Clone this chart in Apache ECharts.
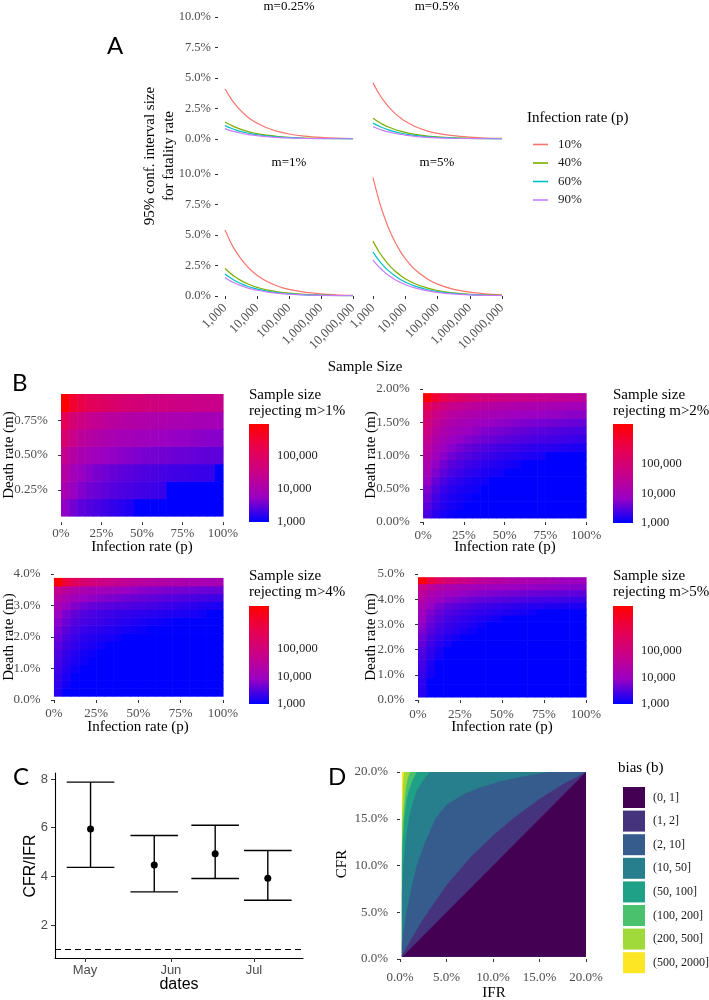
<!DOCTYPE html>
<html>
<head>
<meta charset="utf-8">
<title>Figure</title>
<script src="https://cdn.jsdelivr.net/npm/echarts@6.0.0/dist/echarts.min.js"></script>
<style>
html,body{margin:0;padding:0;background:#ffffff;}
#chart{width:709px;height:1000px;}
</style>
</head>
<body>
<div id="chart"></div>
<script>
// ====================== DATA ======================
// ---- Panel A: 95% CI size (%) vs sample size ----
const sampleSizes = [1000, 1500, 2000, 3000, 5000, 7500, 10000, 20000, 50000, 100000, 300000, 1000000, 3000000, 10000000];
const infectionRates = ['10%', '40%', '60%', '90%'];
const lineColors = ['#F8766D', '#7CAE00', '#00BFC4', '#C77CFF'];
const deathRateLabels = ['m=0.25%', 'm=0.5%', 'm=1%', 'm=5%'];
const ciM025 = [
  [4.10, 3.35, 2.90, 2.37, 1.83, 1.50, 1.30, 0.92, 0.58, 0.41, 0.24, 0.13, 0.07, 0.04],
  [1.40, 1.14, 0.99, 0.81, 0.63, 0.51, 0.44, 0.31, 0.20, 0.14, 0.08, 0.04, 0.03, 0.01],
  [1.10, 0.90, 0.78, 0.63, 0.49, 0.40, 0.35, 0.25, 0.16, 0.11, 0.06, 0.03, 0.02, 0.01],
  [0.85, 0.69, 0.60, 0.49, 0.38, 0.31, 0.27, 0.19, 0.12, 0.085, 0.05, 0.03, 0.02, 0.01]
];
const ciM05 = [
  [4.60, 3.75, 3.25, 2.65, 2.06, 1.68, 1.45, 1.03, 0.65, 0.46, 0.27, 0.15, 0.08, 0.05],
  [1.70, 1.39, 1.20, 0.98, 0.76, 0.62, 0.54, 0.38, 0.24, 0.17, 0.10, 0.05, 0.03, 0.02],
  [1.30, 1.06, 0.92, 0.75, 0.58, 0.47, 0.41, 0.29, 0.18, 0.13, 0.08, 0.04, 0.02, 0.01],
  [1.00, 0.82, 0.71, 0.58, 0.45, 0.37, 0.32, 0.22, 0.14, 0.10, 0.06, 0.03, 0.02, 0.01]
];
const ciM1 = [
  [5.40, 4.41, 3.82, 3.12, 2.41, 1.97, 1.71, 1.21, 0.76, 0.54, 0.31, 0.17, 0.10, 0.05],
  [2.25, 1.84, 1.59, 1.30, 1.01, 0.82, 0.71, 0.50, 0.32, 0.23, 0.13, 0.07, 0.04, 0.02],
  [1.80, 1.47, 1.27, 1.04, 0.80, 0.66, 0.57, 0.40, 0.25, 0.18, 0.10, 0.06, 0.03, 0.02],
  [1.50, 1.22, 1.06, 0.87, 0.67, 0.55, 0.47, 0.34, 0.21, 0.15, 0.09, 0.05, 0.03, 0.02]
];
const ciM5 = [
  [9.70, 7.92, 6.86, 5.60, 4.34, 3.54, 3.07, 2.17, 1.37, 0.97, 0.56, 0.31, 0.18, 0.10],
  [4.50, 3.67, 3.18, 2.60, 2.01, 1.64, 1.42, 1.01, 0.64, 0.45, 0.26, 0.14, 0.08, 0.05],
  [3.60, 2.94, 2.55, 2.08, 1.61, 1.31, 1.14, 0.81, 0.51, 0.36, 0.21, 0.11, 0.07, 0.04],
  [2.95, 2.41, 2.09, 1.70, 1.32, 1.08, 0.93, 0.66, 0.42, 0.30, 0.17, 0.09, 0.05, 0.03]
];

// ---- Panel B: log10(sample size) needed to reject m > threshold ----
const thresholdLabels = ['1%', '2%', '4%', '5%'];
const pCols = [2.5, 7.5, 12.5, 17.5, 22.5, 27.5, 32.5, 37.5, 42.5, 47.5, 52.5, 57.5, 62.5, 67.5, 72.5, 77.5, 82.5, 87.5, 92.5, 97.5];
const mRowsB1 = [0.125, 0.25, 0.375, 0.5, 0.625, 0.75, 0.875];
const mRowsB2 = [0.125, 0.25, 0.375, 0.5, 0.625, 0.75, 0.875, 1.0, 1.125, 1.25, 1.375, 1.5, 1.625, 1.75, 1.875];
const mRowsB3 = [0.25, 0.5, 0.75, 1.0, 1.25, 1.5, 1.75, 2.0, 2.25, 2.5, 2.75, 3.0, 3.25, 3.5, 3.75];
const mRowsB4 = [0.25, 0.5, 0.75, 1.0, 1.25, 1.5, 1.75, 2.0, 2.25, 2.5, 2.75, 3.0, 3.25, 3.5, 3.75, 4.0, 4.25, 4.5, 4.75];
const logNB1 = [
  [3.7,3.55,3.45,3.4,3.35,3.3,3.25,3.2,3.15,3,3,3,3,3,3,3,3,3,3,3],
  [3.95,3.75,3.63,3.55,3.5,3.45,3.41,3.38,3.35,3.33,3.31,3.29,3.27,3,3,3,3,3,3,3],
  [4.15,3.9,3.75,3.66,3.59,3.54,3.49,3.46,3.43,3.4,3.38,3.36,3.34,3.32,3.31,3.3,3.28,3.27,3.26,3],
  [4.4,4.13,3.98,3.88,3.81,3.75,3.71,3.67,3.64,3.61,3.58,3.56,3.55,3.53,3.51,3.5,3.48,3.47,3.46,3.45],
  [4.8,4.48,4.29,4.17,4.09,4.02,3.96,3.91,3.88,3.85,3.81,3.79,3.77,3.74,3.72,3.71,3.69,3.67,3.66,3.65],
  [5.1,4.76,4.57,4.44,4.36,4.28,4.22,4.18,4.14,4.1,4.07,4.04,4.02,4,3.98,3.96,3.94,3.92,3.91,3.9],
  [5.97,5.54,5.3,5.13,5.03,4.94,4.86,4.8,4.75,4.71,4.66,4.63,4.6,4.57,4.55,4.53,4.5,4.48,4.47,4.45]
];
const logNB2 = [
  [3.4,3.22,3.12,3.06,3,3,3,3,3,3,3,3,3,3,3,3,3,3,3,3],
  [3.5,3.3,3.19,3.12,3.07,3,3,3,3,3,3,3,3,3,3,3,3,3,3,3],
  [3.6,3.37,3.24,3.16,3.11,3.07,3,3,3,3,3,3,3,3,3,3,3,3,3,3],
  [3.7,3.45,3.31,3.22,3.16,3.12,3.08,3,3,3,3,3,3,3,3,3,3,3,3,3],
  [3.85,3.57,3.41,3.3,3.23,3.17,3.13,3.1,3,3,3,3,3,3,3,3,3,3,3,3],
  [4,3.7,3.52,3.4,3.32,3.26,3.21,3.16,3.13,3.1,3,3,3,3,3,3,3,3,3,3],
  [4.15,3.82,3.63,3.5,3.42,3.35,3.29,3.24,3.2,3.17,3.13,3.1,3,3,3,3,3,3,3,3],
  [4.3,3.95,3.75,3.61,3.52,3.45,3.39,3.34,3.3,3.26,3.22,3.2,3.17,3.14,3.12,3,3,3,3,3],
  [4.45,4.09,3.88,3.74,3.64,3.57,3.5,3.45,3.41,3.37,3.33,3.31,3.28,3.25,3.23,3.22,3.2,3.18,3.16,3.15],
  [4.6,4.24,4.03,3.89,3.79,3.72,3.65,3.6,3.56,3.52,3.48,3.46,3.43,3.4,3.38,3.37,3.35,3.33,3.31,3.3],
  [4.8,4.41,4.18,4.03,3.93,3.85,3.78,3.72,3.68,3.64,3.6,3.57,3.54,3.51,3.49,3.47,3.45,3.43,3.41,3.4],
  [4.95,4.56,4.33,4.18,4.08,4,3.93,3.87,3.83,3.79,3.75,3.72,3.69,3.66,3.64,3.62,3.6,3.58,3.56,3.55],
  [5.15,4.76,4.53,4.38,4.28,4.2,4.13,4.07,4.03,3.99,3.95,3.92,3.89,3.86,3.84,3.82,3.8,3.78,3.76,3.75],
  [5.5,5.08,4.84,4.68,4.57,4.48,4.41,4.35,4.3,4.26,4.21,4.18,4.15,4.12,4.1,4.08,4.05,4.03,4.02,4],
  [6.36,5.83,5.52,5.31,5.18,5.06,4.97,4.89,4.83,4.77,4.72,4.68,4.64,4.6,4.57,4.55,4.52,4.49,4.47,4.45]
];
const logNB3 = [
  [3.2,3,3,3,3,3,3,3,3,3,3,3,3,3,3,3,3,3,3,3],
  [3.25,3.1,3,3,3,3,3,3,3,3,3,3,3,3,3,3,3,3,3,3],
  [3.3,3.15,3,3,3,3,3,3,3,3,3,3,3,3,3,3,3,3,3,3],
  [3.35,3.2,3.1,3,3,3,3,3,3,3,3,3,3,3,3,3,3,3,3,3],
  [3.4,3.26,3.16,3.09,3,3,3,3,3,3,3,3,3,3,3,3,3,3,3,3],
  [3.45,3.3,3.2,3.13,3.08,3,3,3,3,3,3,3,3,3,3,3,3,3,3,3],
  [3.52,3.37,3.28,3.21,3.15,3.09,3,3,3,3,3,3,3,3,3,3,3,3,3,3],
  [3.6,3.44,3.33,3.26,3.21,3.17,3.13,3.09,3,3,3,3,3,3,3,3,3,3,3,3],
  [3.7,3.52,3.4,3.33,3.28,3.24,3.2,3.16,3.13,3.1,3.07,3,3,3,3,3,3,3,3,3],
  [3.8,3.6,3.48,3.42,3.38,3.34,3.3,3.26,3.22,3.18,3.15,3.12,3.09,3.06,3,3,3,3,3,3],
  [3.95,3.7,3.57,3.48,3.42,3.38,3.34,3.31,3.29,3.27,3.25,3.23,3.21,3.19,3.17,3.15,3.13,3.1,3,3],
  [4.15,3.9,3.75,3.65,3.58,3.54,3.51,3.48,3.46,3.44,3.42,3.39,3.36,3.33,3.3,3.27,3.24,3.21,3.18,3.15],
  [4.4,4.15,4,3.9,3.84,3.78,3.73,3.69,3.65,3.62,3.59,3.56,3.53,3.5,3.47,3.45,3.42,3.4,3.37,3.35],
  [4.75,4.5,4.32,4.2,4.12,4.06,4,3.95,3.9,3.85,3.8,3.77,3.74,3.71,3.69,3.67,3.65,3.63,3.61,3.6],
  [6.56,5.87,5.48,5.21,5.03,4.89,4.76,4.67,4.59,4.52,4.44,4.4,4.35,4.3,4.26,4.22,4.19,4.15,4.13,4.12]
];
const logNB4 = [
  [3.22,3,3,3,3,3,3,3,3,3,3,3,3,3,3,3,3,3,3,3],
  [3.25,3,3,3,3,3,3,3,3,3,3,3,3,3,3,3,3,3,3,3],
  [3.28,3,3,3,3,3,3,3,3,3,3,3,3,3,3,3,3,3,3,3],
  [3.32,3.12,3,3,3,3,3,3,3,3,3,3,3,3,3,3,3,3,3,3],
  [3.37,3.15,3,3,3,3,3,3,3,3,3,3,3,3,3,3,3,3,3,3],
  [3.42,3.18,3,3,3,3,3,3,3,3,3,3,3,3,3,3,3,3,3,3],
  [3.45,3.27,3.12,3,3,3,3,3,3,3,3,3,3,3,3,3,3,3,3,3],
  [3.5,3.3,3.15,3,3,3,3,3,3,3,3,3,3,3,3,3,3,3,3,3],
  [3.6,3.38,3.24,3.13,3,3,3,3,3,3,3,3,3,3,3,3,3,3,3,3],
  [3.65,3.43,3.3,3.2,3.12,3,3,3,3,3,3,3,3,3,3,3,3,3,3,3],
  [3.75,3.52,3.39,3.3,3.22,3.15,3.09,3,3,3,3,3,3,3,3,3,3,3,3,3],
  [3.85,3.6,3.46,3.36,3.29,3.22,3.16,3.1,3,3,3,3,3,3,3,3,3,3,3,3],
  [3.95,3.68,3.52,3.42,3.35,3.29,3.24,3.19,3.15,3.1,3,3,3,3,3,3,3,3,3,3],
  [4.05,3.78,3.62,3.51,3.44,3.38,3.33,3.29,3.26,3.23,3.2,3.17,3.14,3.1,3,3,3,3,3,3],
  [4.2,3.91,3.74,3.62,3.55,3.49,3.43,3.39,3.36,3.33,3.3,3.28,3.26,3.23,3.22,3.2,3.19,3.17,3.16,3.15],
  [4.4,4.11,3.94,3.82,3.75,3.69,3.63,3.59,3.56,3.53,3.5,3.48,3.46,3.43,3.42,3.4,3.39,3.37,3.36,3.35],
  [4.6,4.31,4.14,4.02,3.95,3.89,3.83,3.79,3.76,3.73,3.7,3.68,3.66,3.63,3.62,3.6,3.59,3.57,3.56,3.55],
  [4.9,4.59,4.42,4.3,4.22,4.15,4.1,4.05,4.02,3.99,3.95,3.93,3.91,3.89,3.87,3.86,3.84,3.82,3.81,3.8],
  [6.7,5.94,5.51,5.22,5.03,4.86,4.73,4.62,4.54,4.46,4.38,4.32,4.27,4.22,4.18,4.14,4.09,4.05,4.03,4]
];
const pTicks = [0, 25, 50, 75, 100];
const mTicksB1 = [0.25, 0.5, 0.75];
const mTicksB2 = [0, 0.5, 1, 1.5, 2];
const mTicksB3 = [0, 1, 2, 3, 4];
const mTicksB4 = [0, 1, 2, 3, 4, 5];
const colorbarTicks = [1000, 10000, 100000];

// ---- Panel C: CFR/IFR estimates ----
const cDates = ['2020-05-03', '2020-05-26', '2020-06-17', '2020-07-06'];
const cEst  = [5.95, 4.47, 4.93, 3.92];
const cLow  = [4.37, 3.36, 3.91, 3.02];
const cHigh = [7.87, 5.68, 6.10, 5.06];
const cRefLine = 1;
const cMonthTicks = ['2020-05-01', '2020-06-01', '2020-07-01'];
const cYTicks = [2, 4, 6, 8];

// ---- Panel D: bias classes, upper boundary of each class as (IFR %, CFR %) ----
const biasLabels = ['(0, 1]', '(1, 2]', '(2, 10]', '(10, 50]', '(50, 100]', '(100, 200]', '(200, 500]', '(500, 2000]'];
const biasColors = ['#440154', '#46337E', '#365C8D', '#277F8E', '#1FA187', '#4AC16D', '#9FDA3A', '#FDE725'];
const boundB1 = [[0.2,0.2],[20,20]];
const boundB2 = [[0.2,0.4],[2.5,4.3],[5,7.9],[7.5,10.8],[10,13.2],[12.5,15.3],[15,17.1],[17.5,18.7],[20,20]];
const boundB10 = [[0.2,1.7],[0.3,2.5],[0.7,5],[1.2,7.5],[1.8,10],[2.7,12.5],[3.8,15],[5,16.5],[6.8,17.6],[8.5,18.3],[10.8,19],[13,19.5],[16,20],[20,20]];
const boundB50 = [[0.2,7],[0.36,10],[0.58,12.5],[0.95,15],[1.3,16.5],[1.8,18],[2.4,19],[3.2,20],[20,20]];
const boundB100 = [[0.2,10],[0.29,12.5],[0.46,15],[0.7,17],[0.95,18],[1.3,19],[1.8,20],[20,20]];
const boundB200 = [[0.2,12],[0.3,14.5],[0.45,16.5],[0.6,18],[0.8,19.2],[1.1,20],[20,20]];
const boundB500 = [[0.2,14.5],[0.25,16],[0.3,17.5],[0.35,19],[0.43,20],[20,20]];
const boundB2000 = [[0.2,20],[20,20]];
const dFloor = 0.25;

// ====================== STYLE ======================
const SERIF = '"Liberation Serif", "Times New Roman", serif';
const SANS = '"Liberation Sans", Arial, sans-serif';
const BIG = 'Lato, "Open Sans", sans-serif';
const TICK = '#333333';
const LAB = '#4D4D4D';
const ramp = ['#0000FF', '#9A00C3', '#C90089', '#E8004F', '#FF0000'];

// ====================== BUILD ======================
const grids = [
  {left: 225, top: 17, width: 128, height: 122},
  {left: 373, top: 17, width: 129, height: 122},
  {left: 225, top: 174, width: 128, height: 122},
  {left: 373, top: 174, width: 129, height: 122},
  {left: 52.9, top: 387.9, width: 178.2, height: 134.2},
  {left: 414.9, top: 386.9, width: 179.3, height: 137.2},
  {left: 45.5, top: 572, width: 185.9, height: 130},
  {left: 409.6, top: 571.2, width: 184.8, height: 131.7},
  {left: 249, top: 424, width: 20, height: 98},
  {left: 613, top: 424, width: 20, height: 99},
  {left: 249, top: 606, width: 20, height: 98},
  {left: 613, top: 606, width: 20, height: 98},
  {left: 55, top: 773, width: 248, height: 185},
  {left: 400, top: 772, width: 186, height: 187}
].map(g => Object.assign({containLabel: false}, g));

const xAxis = [], yAxis = [], series = [], visualMap = [];

// ---- Panel A ----
const ciPanels = [ciM025, ciM05, ciM1, ciM5];
for (let g = 0; g < 4; g++) {
  const bottom = g >= 2, leftCol = g % 2 === 0;
  xAxis.push({
    type: 'log', logBase: 10, gridIndex: g, min: 1000, max: 10000000, offset: 5,
    axisLine: {show: false}, splitLine: {show: false}, minorTick: {show: false}, minorSplitLine: {show: false},
    axisTick: {show: bottom, length: 3, lineStyle: {color: TICK, width: 1}},
    axisLabel: {show: bottom, rotate: 45, margin: 5, color: LAB, fontFamily: SERIF, fontSize: 13,
      formatter: v => Math.round(v).toLocaleString('en-US')}
  });
  yAxis.push({
    type: 'value', gridIndex: g, min: 0, max: 10, interval: 2.5, offset: 7,
    axisLine: {show: false}, splitLine: {show: false},
    axisTick: {show: leftCol, length: 3, lineStyle: {color: TICK, width: 1}},
    axisLabel: {show: leftCol, margin: 7, color: LAB, fontFamily: SERIF, fontSize: 12.5,
      formatter: v => v.toFixed(1) + '%'}
  });
}
ciPanels.forEach((panel, g) => panel.forEach((vals, k) => {
  series.push({
    type: 'line', name: infectionRates[k], xAxisIndex: g, yAxisIndex: g,
    symbol: 'none', showSymbol: false, smooth: 0.35, color: lineColors[k],
    lineStyle: {width: 1.2, color: lineColors[k]}, itemStyle: {color: lineColors[k]},
    data: sampleSizes.map((n, j) => [n, vals[j]]), silent: true
  });
}));

// ---- Panel B ----
const bPanels = [
  {g: 4, rows: mRowsB1, vals: logNB1, xr: [-5, 105], yr: [0.01875, 0.98125], yt: mTicksB1, dec: 2},
  {g: 5, rows: mRowsB2, vals: logNB2, xr: [-5, 105], yr: [-0.03125, 2.03125], yt: mTicksB2, dec: 2},
  {g: 6, rows: mRowsB3, vals: logNB3, xr: [-5, 105], yr: [-0.0625, 4.0625], yt: mTicksB3, dec: 1},
  {g: 7, rows: mRowsB4, vals: logNB4, xr: [-5, 105], yr: [-0.1125, 5.1125], yt: mTicksB4, dec: 1}
];
const bMax = bPanels.map(b => Math.max(...b.vals.map(r => Math.max(...r))));
bPanels.forEach((b, i) => {
  xAxis.push({
    type: 'value', gridIndex: b.g, min: b.xr[0], max: b.xr[1],
    axisLine: {show: false}, splitLine: {show: false},
    axisTick: {show: true, length: 3, lineStyle: {color: TICK}, customValues: pTicks},
    axisLabel: {show: true, customValues: pTicks, margin: 5, color: LAB, fontFamily: SERIF, fontSize: 13,
      formatter: v => v + '%'}
  });
  yAxis.push({
    type: 'value', gridIndex: b.g, min: b.yr[0], max: b.yr[1],
    axisLine: {show: false}, splitLine: {show: false},
    axisTick: {show: true, length: 3, lineStyle: {color: TICK}, customValues: b.yt},
    axisLabel: {show: true, customValues: b.yt, margin: 5, color: LAB, fontFamily: SERIF, fontSize: 13,
      formatter: v => v.toFixed(b.dec) + '%'}
  });
});
bPanels.forEach((b, i) => {
  xAxis.push({type: 'value', gridIndex: 8 + i, min: 0, max: 1, show: false});
  yAxis.push({
    type: 'value', gridIndex: 8 + i, min: 3, max: bMax[i], position: 'right',
    axisLine: {show: false}, splitLine: {show: false},
    axisTick: {show: true, inside: true, length: 4, lineStyle: {color: '#ffffff', width: 1},
      customValues: colorbarTicks.slice(1).map(Math.log10)},
    axisLabel: {show: true, customValues: colorbarTicks.map(Math.log10), margin: 8, color: '#1a1a1a',
      fontFamily: SERIF, fontSize: 12.5,
      formatter: v => Math.round(Math.pow(10, v)).toLocaleString('en-US')}
  });
});
bPanels.forEach((b, i) => {
  const data = [];
  b.rows.forEach((m, r) => pCols.forEach((p, c) => data.push([p, m, b.vals[r][c]])));
  const dp = pCols[1] - pCols[0], dm = b.rows[1] - b.rows[0];
  visualMap.push({
    type: 'continuous', show: false, seriesIndex: series.length, dimension: 2,
    min: 3, max: bMax[i], inRange: {color: ramp}
  });
  series.push({
    type: 'custom', xAxisIndex: b.g, yAxisIndex: b.g, data, silent: true,
    dimensions: ['p', 'm', 'logN'], encode: {x: 0, y: 1},
    renderItem: (params, api) => {
      const p = api.value(0), m = api.value(1);
      const a = api.coord([p - dp / 2, m + dm / 2]);
      const z = api.coord([p + dp / 2, m - dm / 2]);
      return {type: 'rect', shape: {x: a[0], y: a[1], width: z[0] - a[0] + 0.6, height: z[1] - a[1] + 0.6},
        style: {fill: api.visual('color')}};
    }
  });
});
bPanels.forEach((b, i) => {
  series.push({
    type: 'custom', xAxisIndex: 8 + i, yAxisIndex: 8 + i, data: [[0, 3]], silent: true,
    renderItem: (params, api) => {
      const a = api.coord([0, bMax[i]]), z = api.coord([1, 3]);
      return {type: 'rect', shape: {x: a[0], y: a[1], width: z[0] - a[0], height: z[1] - a[1]},
        style: {fill: new echarts.graphic.LinearGradient(0, 1, 0, 0,
          ramp.map((c, k) => ({offset: k / (ramp.length - 1), color: c})))}};
    },
    z: 1
  });
});

// ---- Panel C ----
const toTs = s => { const [y, m, d] = s.split('-').map(Number); return new Date(y, m - 1, d).getTime(); };
const HOUR = 3600e3, DAY = 24 * HOUR;
const monthNames = ['Jan','Feb','Mar','Apr','May','Jun','Jul','Aug','Sep','Oct','Nov','Dec'];
xAxis.push({
  type: 'value', gridIndex: 12, min: toTs('2020-04-20') + 4 * HOUR, max: toTs('2020-07-18') + 17 * HOUR,
  axisLine: {show: true, onZero: false, lineStyle: {color: '#000', width: 1.1}},
  splitLine: {show: false},
  axisTick: {show: true, length: 4, lineStyle: {color: TICK}, customValues: cMonthTicks.map(toTs)},
  axisLabel: {show: true, customValues: cMonthTicks.map(toTs), margin: 6, color: LAB, fontFamily: SANS, fontSize: 13,
    formatter: v => monthNames[new Date(v).getMonth()]}
});
yAxis.push({
  type: 'value', gridIndex: 12, min: 0.644, max: 8.247,
  axisLine: {show: true, onZero: false, lineStyle: {color: '#000', width: 1.1}},
  splitLine: {show: false},
  axisTick: {show: true, length: 4, lineStyle: {color: TICK}, customValues: cYTicks},
  axisLabel: {show: true, customValues: cYTicks, margin: 7, color: LAB, fontFamily: SANS, fontSize: 13}
});
const capHalfDays = 8.6;
series.push({
  type: 'custom', xAxisIndex: 12, yAxisIndex: 12, silent: true,
  data: cDates.map((d, i) => [toTs(d), cLow[i], cHigh[i]]),
  encode: {x: 0, y: [1, 2]},
  renderItem: (params, api) => {
    const x = api.value(0);
    const lo = api.coord([x, api.value(1)]), hi = api.coord([x, api.value(2)]);
    const half = api.size([capHalfDays * DAY, 0])[0];
    const st = {stroke: '#000', lineWidth: 1.4};
    return {type: 'group', children: [
      {type: 'line', shape: {x1: lo[0], y1: lo[1], x2: hi[0], y2: hi[1]}, style: st},
      {type: 'line', shape: {x1: hi[0] - half, y1: hi[1], x2: hi[0] + half, y2: hi[1]}, style: st},
      {type: 'line', shape: {x1: lo[0] - half, y1: lo[1], x2: lo[0] + half, y2: lo[1]}, style: st}
    ]};
  }
});
series.push({
  type: 'scatter', xAxisIndex: 12, yAxisIndex: 12, silent: true,
  data: cDates.map((d, i) => [toTs(d), cEst[i]]), symbolSize: 7, itemStyle: {color: '#000', opacity: 1}, z: 5,
  markLine: {silent: true, symbol: 'none', label: {show: false}, animation: false,
    lineStyle: {type: [6, 4], color: '#000', width: 1.2}, data: [{yAxis: cRefLine}]}
});

// ---- Panel D ----
xAxis.push({
  type: 'value', gridIndex: 13, min: 0, max: 20, interval: 5, offset: 7,
  axisLine: {show: false}, splitLine: {show: false},
  axisTick: {show: true, length: 3, lineStyle: {color: TICK}},
  axisLabel: {show: true, margin: 5, color: LAB, fontFamily: SERIF, fontSize: 13, formatter: v => v.toFixed(1) + '%'}
});
yAxis.push({
  type: 'value', gridIndex: 13, min: 0, max: 20, interval: 5, offset: 6,
  axisLine: {show: false}, splitLine: {show: false},
  axisTick: {show: true, length: 3, lineStyle: {color: TICK}},
  axisLabel: {show: true, margin: 6, color: LAB, fontFamily: SERIF, fontSize: 13, formatter: v => v.toFixed(1) + '%'}
});
const biasBounds = [boundB1, boundB2, boundB10, boundB50, boundB100, boundB200, boundB500, boundB2000];
for (let k = biasBounds.length - 1; k >= 0; k--) {
  series.push({
    type: 'line', name: biasLabels[k], xAxisIndex: 13, yAxisIndex: 13, silent: true,
    data: biasBounds[k], symbol: 'none', showSymbol: false, smooth: false, clip: true,
    color: biasColors[k], itemStyle: {color: biasColors[k]},
    lineStyle: {width: 0, color: biasColors[k]},
    areaStyle: {color: biasColors[k], opacity: 1, origin: dFloor}
  });
}

// ---- Texts ----
function txt(text, x, y, font, o) {
  o = o || {};
  const align = o.align || 'center', va = o.va || 'middle';
  const style = {text, font, fill: o.color || '#000', align, verticalAlign: va};
  if (o.lh) style.lineHeight = o.lh;
  return {type: 'text', x, y, rotation: o.rot || 0, silent: true, z: 100, style};
}
const f = (s, fam) => s + 'px ' + fam;
const R90 = Math.PI / 2;
const texts = [
  txt('A', 107, 46, f(24, BIG), {align: 'left'}),
  txt('B', 12, 383, f(24, BIG), {align: 'left'}),
  txt('C', 13, 777, f(24, BIG), {align: 'left'}),
  txt('D', 328, 777, f(24, BIG), {align: 'left'}),
  txt(deathRateLabels[0], 289, 7, f(13, SERIF)),
  txt(deathRateLabels[1], 437, 7, f(13, SERIF)),
  txt(deathRateLabels[2], 289, 163, f(13, SERIF)),
  txt(deathRateLabels[3], 437, 163, f(13, SERIF)),
  txt('95% conf. interval size\nfor fatality rate', 159.5, 156, f(15, SERIF), {rot: R90, lh: 19}),
  txt('Sample Size', 365, 367, f(15, SERIF)),
  txt('Infection rate (p)', 527, 118, f(15, SERIF), {align: 'left'}),
  txt('Death rate (m)', 9, 455, f(15, SERIF), {rot: R90}),
  txt('Death rate (m)', 371, 455, f(15, SERIF), {rot: R90}),
  txt('Death rate (m)', 9, 637, f(15, SERIF), {rot: R90}),
  txt('Death rate (m)', 371, 637, f(15, SERIF), {rot: R90}),
  txt('Infection rate (p)', 142, 547, f(15, SERIF)),
  txt('Infection rate (p)', 505, 547, f(15, SERIF)),
  txt('Infection rate (p)', 138, 727, f(15, SERIF)),
  txt('Infection rate (p)', 502, 727, f(15, SERIF)),
  txt('Sample size\nrejecting m>' + thresholdLabels[0], 249, 387, f(15, SERIF), {align: 'left', va: 'top', lh: 16}),
  txt('Sample size\nrejecting m>' + thresholdLabels[1], 613, 387, f(15, SERIF), {align: 'left', va: 'top', lh: 16}),
  txt('Sample size\nrejecting m>' + thresholdLabels[2], 249, 568, f(15, SERIF), {align: 'left', va: 'top', lh: 16}),
  txt('Sample size\nrejecting m>' + thresholdLabels[3], 613, 568, f(15, SERIF), {align: 'left', va: 'top', lh: 16}),
  txt('CFR/IFR', 31, 866, f(16, SANS), {rot: R90}),
  txt('dates', 179, 985, f(16, SANS)),
  txt('CFR', 342, 864, f(15, SERIF), {rot: R90}),
  txt('IFR', 494, 993, f(15, SERIF)),
  txt('bias (b)', 618, 768, f(15, SERIF), {align: 'left'})
];

const option = {
  animation: false,
  backgroundColor: '#ffffff',
  grid: grids, xAxis, yAxis, series, visualMap,
  legend: [
    {data: infectionRates, left: 528, top: 133, orient: 'vertical', icon: 'rect', itemWidth: 15, itemHeight: 1.6,
      itemGap: 5.5, selectedMode: false,
      textStyle: {fontFamily: SERIF, fontSize: 13, color: '#1a1a1a', padding: [0, 0, 0, 5]}},
    {data: biasLabels, left: 618, top: 782, orient: 'vertical', icon: 'rect', itemWidth: 22, itemHeight: 21,
      itemGap: 2.6, selectedMode: false,
      textStyle: {fontFamily: SERIF, fontSize: 12, color: '#1a1a1a', padding: [0, 0, 0, 3]}}
  ],
  graphic: {elements: texts}
};
const chart = echarts.init(document.getElementById('chart'), null, {renderer: 'canvas'});
chart.setOption(option);
</script>
</body>
</html>
